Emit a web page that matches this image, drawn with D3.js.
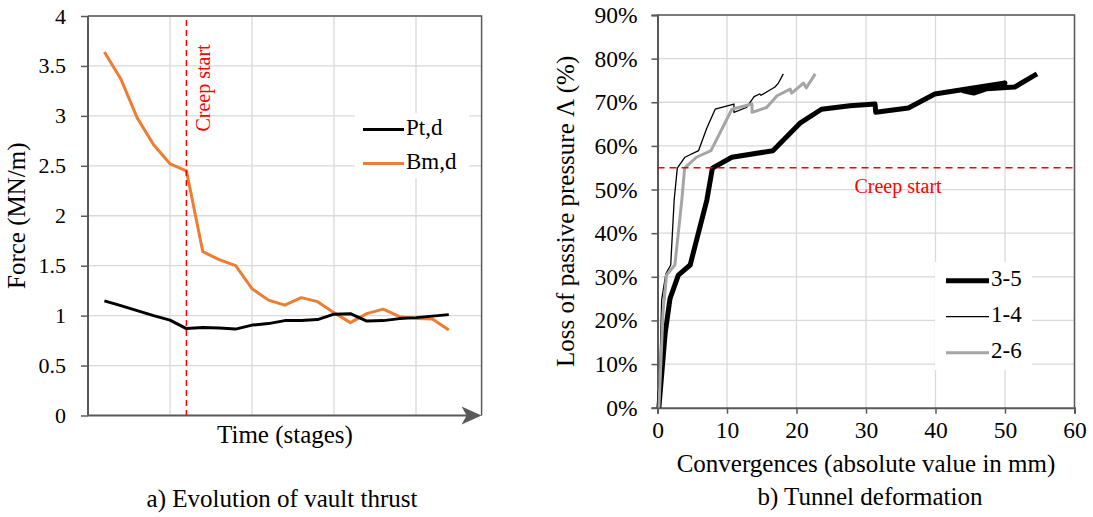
<!DOCTYPE html>
<html>
<head>
<meta charset="utf-8">
<script src="https://cdn.jsdelivr.net/npm/d3@7"></script>
<style>
  html, body { margin: 0; padding: 0; background: #fff; }
  svg text { font-family: "Liberation Serif", "Times New Roman", Times, serif !important; }
</style>
</head>
<body>
<div id="chart"></div>
<script>
// ---- a) vault thrust, stage 1..22 ----
const stages = d3.range(1, 23);
const ptd = [1.148, 1.10, 1.05, 1.0, 0.955, 0.87, 0.88, 0.875, 0.865, 0.905, 0.92, 0.95, 0.95, 0.96, 1.015, 1.02, 0.945, 0.95, 0.97, 0.98, 0.995, 1.01];
const bmd = [3.64, 3.37, 2.98, 2.71, 2.52, 2.45, 1.64, 1.56, 1.50, 1.27, 1.155, 1.105, 1.18, 1.14, 1.03, 0.93, 1.02, 1.065, 0.99, 0.97, 0.965, 0.855];
const forceTicks = [0, 0.5, 1, 1.5, 2, 2.5, 3, 3.5, 4];
const stageGrid = [5, 10, 15, 20];
const creepStage = 6;

// ---- b) tunnel deformation: [convergence mm, loss %] ----
const conv35 = [[0.2, 0], [1.1, 17], [1.8, 25], [3.0, 30.4], [4.7, 32.7], [7.1, 47.6], [7.9, 54.9], [10.7, 57.4], [16.6, 58.9], [20.5, 65.2], [23.6, 68.4], [27.7, 69.2], [31.3, 69.6], [31.4, 67.7], [36.1, 68.7], [39.9, 71.9], [50, 74.4], [44, 72.6], [45.5, 72.1], [47.4, 73.1], [51.4, 73.5], [54.6, 76.5]];
const conv14 = [[0.2, 0], [0.6, 24.7], [1.2, 30.7], [1.9, 32.7], [2.4, 47.6], [2.85, 54.9], [3.95, 57.4], [5.9, 58.9], [7.1, 64.1], [8.3, 68.4], [11, 69.6], [11, 67.7], [12.8, 68.8], [13.9, 71.3], [14.7, 71.9], [14.9, 71.6], [16.9, 73.5], [17.4, 74.4], [18.1, 76.5]];
const conv26 = [[0.2, 0], [0.8, 22], [1.3, 30.4], [2.5, 32.7], [3.5, 47.6], [3.9, 54.9], [5.6, 57.4], [7.7, 58.9], [10.7, 68.4], [13.6, 69.6], [13.6, 67.7], [15.7, 68.8], [17.2, 71.5], [19.1, 73.0], [19.3, 72.1], [21, 74.4], [21.4, 73.3], [22.7, 76.5]];
const convTicks = [0, 10, 20, 30, 40, 50, 60];
const lossTicks = [0, 10, 20, 30, 40, 50, 60, 70, 80, 90];
const creepLoss = 55;

const W = 1093, H = 517;
const gridColor = "#d9d9d9", axisColor = "#595959";
const serif = "Liberation Serif";

const svg = d3.select("#chart").append("svg").attr("width", W).attr("height", H)
  .attr("font-family", serif);

// ===================== left chart =====================
{
  const x = d3.scaleLinear().domain([0, 24]).range([88, 481.6]);
  const y = d3.scaleLinear().domain([0, 4]).range([415.5, 16]);
  const g = svg.append("g");

  g.append("g").selectAll("line").data(forceTicks.slice(1)).join("line")
    .attr("x1", x(0)).attr("x2", x(24)).attr("y1", y).attr("y2", y)
    .attr("stroke", gridColor).attr("stroke-width", 1.3);
  g.append("g").selectAll("line").data(stageGrid).join("line")
    .attr("x1", x).attr("x2", x).attr("y1", y(0)).attr("y2", y(4))
    .attr("stroke", gridColor).attr("stroke-width", 1.3);

  // border top/right
  g.append("path").attr("d", `M${x(0)},${y(4)}H${x(24)}V${y(0)}`)
    .attr("fill", "none").attr("stroke", axisColor).attr("stroke-width", 1.5);

  g.append("g").attr("transform", `translate(${x(0)},0)`)
    .call(d3.axisLeft(y).tickValues(forceTicks).tickFormat(d3.format("")).tickSize(7).tickPadding(15))
    .call((a) => a.attr("font-family", serif).select(".domain").remove())
    .call((a) => a.selectAll("line").attr("stroke", axisColor).attr("stroke-width", 1.5))
    .call((a) => a.selectAll("text").attr("font-size", 22).attr("fill", "#000"));

  g.append("line").attr("x1", x(0)).attr("x2", x(0)).attr("y1", y(4)).attr("y2", y(0))
    .attr("stroke", axisColor).attr("stroke-width", 2);
  g.append("line").attr("x1", x(0)).attr("x2", x(24) - 14).attr("y1", y(0)).attr("y2", y(0))
    .attr("stroke", axisColor).attr("stroke-width", 2);
  g.append("path")
    .attr("d", `M${x(24)},${y(0)} L${x(24) - 20},${y(0) - 9} L${x(24) - 15},${y(0)} L${x(24) - 20},${y(0) + 9} Z`)
    .attr("fill", axisColor);

  const line = d3.line().x((d, i) => x(stages[i])).y((d) => y(d));
  g.append("path").datum(bmd).attr("d", line).attr("fill", "none")
    .attr("stroke", "#ed7d31").attr("stroke-width", 3).attr("stroke-linejoin", "round");
  g.append("path").datum(ptd).attr("d", line).attr("fill", "none")
    .attr("stroke", "#000").attr("stroke-width", 3).attr("stroke-linejoin", "round");

  g.append("line").attr("x1", x(creepStage)).attr("x2", x(creepStage)).attr("y1", 20).attr("y2", y(0))
    .attr("stroke", "#ff0000").attr("stroke-width", 1.5).attr("stroke-dasharray", "6,4");
  g.append("text").attr("transform", `translate(${x(creepStage) + 19},88) rotate(-90)`)
    .attr("text-anchor", "middle").attr("dominant-baseline", "middle")
    .attr("font-size", 20).attr("fill", "#ff0000").text("Creep start");

  // legend
  const lg = g.append("g");
  lg.append("rect").attr("x", 355).attr("y", 113).attr("width", 114).attr("height", 65).attr("fill", "#fff");
  [["Pt,d", "#000", 129.5], ["Bm,d", "#ed7d31", 163.5]].forEach(([label, color, ly]) => {
    lg.append("line").attr("x1", 363).attr("x2", 404).attr("y1", ly).attr("y2", ly)
      .attr("stroke", color).attr("stroke-width", 3);
    lg.append("text").attr("x", 406).attr("y", ly).attr("dominant-baseline", "middle")
      .attr("font-size", 23).text(label);
  });

  g.append("text").attr("transform", `translate(19,${(y(0) + y(4)) / 2}) rotate(-90)`)
    .attr("text-anchor", "middle").attr("dominant-baseline", "middle").attr("font-size", 25).text("Force (MN/m)");
  g.append("text").attr("x", 285).attr("y", 437).attr("text-anchor", "middle").attr("dominant-baseline", "middle")
    .attr("font-size", 25).text("Time (stages)");
  g.append("text").attr("x", 282).attr("y", 501).attr("text-anchor", "middle").attr("dominant-baseline", "middle")
    .attr("font-size", 25).text("a) Evolution of vault thrust");
}

// ===================== right chart =====================
{
  const x = d3.scaleLinear().domain([0, 60]).range([657.5, 1074.5]);
  const y = d3.scaleLinear().domain([0, 90]).range([407.7, 15]);
  const g = svg.append("g");

  g.append("g").selectAll("line").data(lossTicks.slice(1)).join("line")
    .attr("x1", x(0)).attr("x2", x(60)).attr("y1", y).attr("y2", y)
    .attr("stroke", gridColor).attr("stroke-width", 1.3);
  g.append("g").selectAll("line").data(convTicks.slice(1)).join("line")
    .attr("x1", x).attr("x2", x).attr("y1", y(0)).attr("y2", y(90))
    .attr("stroke", gridColor).attr("stroke-width", 1.3);

  g.append("path").attr("d", `M${x(0)},${y(90)}H${x(60)}V${y(0)}`)
    .attr("fill", "none").attr("stroke", axisColor).attr("stroke-width", 1.5);

  g.append("g").attr("transform", `translate(${x(0)},0)`)
    .call(d3.axisLeft(y).tickValues(lossTicks).tickFormat((d) => `${d}%`).tickSize(6).tickPadding(14))
    .call((a) => a.attr("font-family", serif).select(".domain").attr("stroke", axisColor).attr("stroke-width", 2))
    .call((a) => a.selectAll("line").attr("stroke", axisColor).attr("stroke-width", 1.5))
    .call((a) => a.selectAll("text").attr("font-size", 23.5).attr("fill", "#000"));

  g.append("g").attr("transform", `translate(0,${y(0)})`)
    .call(d3.axisBottom(x).tickValues(convTicks).tickSize(6).tickPadding(8))
    .call((a) => a.attr("font-family", serif).select(".domain").attr("stroke", axisColor).attr("stroke-width", 2))
    .call((a) => a.selectAll("line").attr("stroke", axisColor).attr("stroke-width", 1.5))
    .call((a) => a.selectAll("text").attr("font-size", 23.5).attr("fill", "#000"));

  const line = d3.line().x((d) => x(d[0])).y((d) => y(d[1]));
  const series = [
    { name: "3-5", data: conv35, color: "#000", width: 5 },
    { name: "1-4", data: conv14, color: "#000", width: 1.3 },
    { name: "2-6", data: conv26, color: "#a5a5a5", width: 3 },
  ];
  series.forEach((s) => {
    g.append("path").datum(s.data).attr("d", line).attr("fill", "none")
      .attr("stroke", s.color).attr("stroke-width", s.width).attr("stroke-linejoin", "round");
  });

  g.append("line").attr("x1", x(0)).attr("x2", x(60)).attr("y1", y(creepLoss)).attr("y2", y(creepLoss))
    .attr("stroke", "#ff0000").attr("stroke-width", 1.5).attr("stroke-dasharray", "7,5");
  g.append("text").attr("x", 898).attr("y", 188).attr("text-anchor", "middle").attr("dominant-baseline", "middle")
    .attr("font-size", 20).attr("fill", "#ff0000").text("Creep start");

  const lg = g.append("g");
  lg.append("rect").attr("x", 935).attr("y", 262).attr("width", 97).attr("height", 108).attr("fill", "#fff");
  series.forEach((s, i) => {
    const ly = 280.7 + i * 36;
    lg.append("line").attr("x1", 946).attr("x2", 989).attr("y1", ly).attr("y2", ly)
      .attr("stroke", s.color).attr("stroke-width", s.width);
    lg.append("text").attr("x", 991).attr("y", ly).attr("dominant-baseline", "middle")
      .attr("font-size", 23).text(s.name);
  });

  g.append("text").attr("transform", `translate(568,${(y(0) + y(90)) / 2}) rotate(-90)`)
    .attr("text-anchor", "middle").attr("dominant-baseline", "middle").attr("font-size", 25)
    .text("Loss of passive pressure Λ (%)");
  g.append("text").attr("x", 866).attr("y", 466).attr("text-anchor", "middle").attr("dominant-baseline", "middle")
    .attr("font-size", 25).text("Convergences (absolute value in mm)");
  g.append("text").attr("x", 870).attr("y", 499).attr("text-anchor", "middle").attr("dominant-baseline", "middle")
    .attr("font-size", 25).text("b) Tunnel deformation");
}
</script>
</body>
</html>
